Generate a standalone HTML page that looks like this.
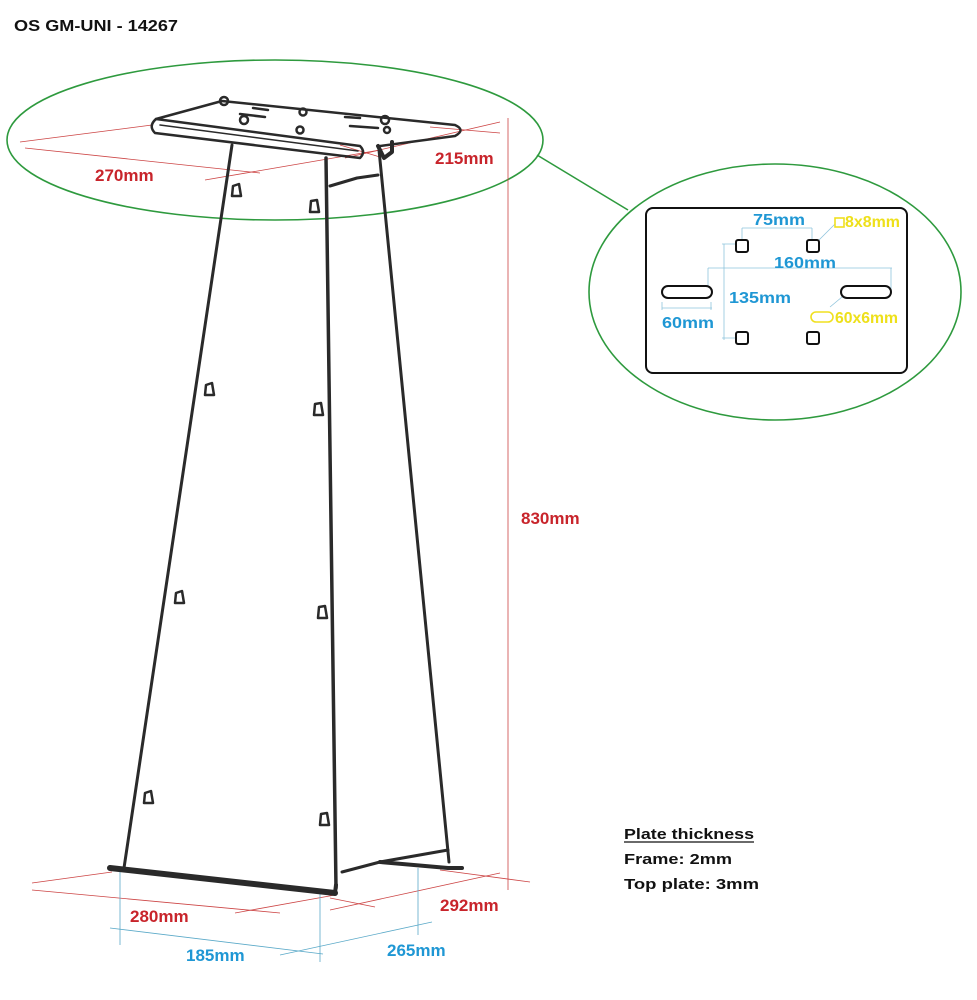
<!DOCTYPE html>
<html><head><meta charset="utf-8"><style>
html,body{margin:0;padding:0;background:#fff;}
svg{display:block;}
text{font-family:"Liberation Sans",sans-serif;font-weight:bold;}
</style></head><body>
<svg width="977" height="1000" viewBox="0 0 977 1000" xmlns="http://www.w3.org/2000/svg">
<rect width="977" height="1000" fill="#fff"/>
<text x="14" y="31" font-size="16" fill="#111" textLength="164" lengthAdjust="spacingAndGlyphs">OS GM-UNI - 14267</text>

<ellipse cx="275" cy="140" rx="268" ry="80" fill="none" stroke="#2e9a3e" stroke-width="1.6"/>
<line x1="537" y1="155" x2="628" y2="210" stroke="#2e9a3e" stroke-width="1.6"/>
<ellipse cx="775" cy="292" rx="186" ry="128" fill="none" stroke="#2e9a3e" stroke-width="1.6"/>

<g stroke="#c44" stroke-width="0.8" fill="none">
<line x1="20" y1="142" x2="152" y2="125"/>
<line x1="25" y1="148" x2="260" y2="173"/>
<line x1="205" y1="180" x2="380" y2="150"/>
<line x1="340" y1="145" x2="380" y2="157"/>
<line x1="345" y1="158" x2="500" y2="122"/>
<line x1="430" y1="127" x2="500" y2="133"/>
<line x1="508" y1="118" x2="508" y2="890"/>
<line x1="32" y1="883" x2="112" y2="872"/>
<line x1="32" y1="890" x2="280" y2="913"/>
<line x1="235" y1="913" x2="335" y2="895"/>
<line x1="330" y1="898" x2="375" y2="907"/>
<line x1="330" y1="910" x2="500" y2="873"/>
<line x1="440" y1="870" x2="530" y2="882"/>
</g>
<g stroke="#5aa9c8" stroke-width="0.8" fill="none">
<line x1="120" y1="872" x2="120" y2="945"/>
<line x1="110" y1="928" x2="323" y2="954"/>
<line x1="320" y1="893" x2="320" y2="962"/>
<line x1="280" y1="955" x2="432" y2="922"/>
<line x1="418" y1="868" x2="418" y2="935"/>
</g>

<g stroke="#2a2a2a" fill="none" stroke-linecap="round" stroke-linejoin="round">
<line x1="232" y1="145" x2="124" y2="868" stroke-width="3"/>
<line x1="326" y1="158" x2="336" y2="888" stroke-width="3.5"/>
<line x1="379" y1="150" x2="449" y2="862" stroke-width="3"/>
<path d="M330 186 L357 178 L378 175" stroke-width="3"/>
<path d="M110 868 L335 893" stroke-width="6"/>
<path d="M335 893 L336 885" stroke-width="4"/>
<path d="M342 872 L380 862 L448 850" stroke-width="3"/>
<path d="M380 862 L448 868 L462 868" stroke-width="4"/>
<path d="M156 119 L222 101 L455 125 Q466 130 455 136 L380 146" stroke-width="2.5"/>
<path d="M156 119 L360 146 Q366 152 360 158 L155 133 Q148 126 156 119 Z" stroke-width="2.5"/>
<path d="M160 125 L358 151" stroke-width="1.5"/>
<path d="M378 146 L384 158 L392 152 L392 142" stroke-width="4"/>
<g stroke-width="2.5">
<circle cx="224" cy="101" r="4"/><circle cx="244" cy="120" r="4"/><circle cx="300" cy="130" r="3.5"/><circle cx="303" cy="112" r="3.5"/><circle cx="385" cy="120" r="4"/><circle cx="387" cy="130" r="3"/>
<line x1="240" y1="114" x2="265" y2="117"/><line x1="253" y1="108" x2="268" y2="110"/>
<line x1="350" y1="126" x2="378" y2="128"/><line x1="345" y1="117" x2="360" y2="118"/>
</g>
<g stroke-width="2.5">
<path d="M232 196 l1 -10 l6 -2 l2 12 z"/>
<path d="M205 395 l1 -10 l6 -2 l2 12 z"/>
<path d="M175 603 l1 -10 l6 -2 l2 12 z"/>
<path d="M144 803 l1 -10 l6 -2 l2 12 z"/>
<path d="M310 212 l1 -11 l6 -1 l2 12 z"/>
<path d="M314 415 l1 -11 l6 -1 l2 12 z"/>
<path d="M318 618 l1 -11 l6 -1 l2 12 z"/>
<path d="M320 825 l1 -11 l6 -1 l2 12 z"/>
</g>
</g>

<g font-size="17" fill="#c8242b">
<text x="95" y="181">270mm</text>
<text x="435" y="164">215mm</text>
<text x="521" y="524">830mm</text>
<text x="130" y="922">280mm</text>
<text x="440" y="911">292mm</text>
</g>
<g font-size="17" fill="#1f97d4">
<text x="186" y="961">185mm</text>
<text x="387" y="956">265mm</text>
</g>

<rect x="646" y="208" width="261" height="165" rx="7" fill="#fff" stroke="#111" stroke-width="2"/>
<g stroke="#8ec4dc" stroke-width="0.8" fill="none">
<line x1="742" y1="228" x2="812" y2="228"/><line x1="742" y1="228" x2="742" y2="244"/><line x1="812" y1="228" x2="812" y2="244"/>
<line x1="724" y1="244" x2="724" y2="340"/><line x1="722" y1="244" x2="740" y2="244"/><line x1="722" y1="338" x2="740" y2="338"/>
<line x1="708" y1="268" x2="892" y2="268"/><line x1="708" y1="268" x2="708" y2="292"/><line x1="891" y1="268" x2="891" y2="292"/>
<line x1="662" y1="308" x2="712" y2="308"/><line x1="662" y1="302" x2="662" y2="310"/><line x1="711" y1="302" x2="711" y2="310"/>
<line x1="814" y1="245" x2="835" y2="224"/>
<line x1="830" y1="307" x2="848" y2="292"/>
</g>
<g stroke="#111" stroke-width="2" fill="#fff">
<rect x="736" y="240" width="12" height="12" rx="2"/><rect x="807" y="240" width="12" height="12" rx="2"/>
<rect x="736" y="332" width="12" height="12" rx="2"/><rect x="807" y="332" width="12" height="12" rx="2"/>
<rect x="662" y="286" width="50" height="12" rx="6"/><rect x="841" y="286" width="50" height="12" rx="6"/>
</g>
<g stroke="#f0e020" stroke-width="1.6" fill="none">
<rect x="835" y="218" width="9" height="9"/>
<rect x="811" y="312" width="22" height="10" rx="5"/>
</g>
<g font-size="16" fill="#1f97d4">
<text x="753" y="225" textLength="52" lengthAdjust="spacingAndGlyphs">75mm</text>
<text x="774" y="268" textLength="62" lengthAdjust="spacingAndGlyphs">160mm</text>
<text x="729" y="303" textLength="62" lengthAdjust="spacingAndGlyphs">135mm</text>
<text x="662" y="328" textLength="52" lengthAdjust="spacingAndGlyphs">60mm</text>
</g>
<g font-size="16" fill="#eee01a">
<text x="845" y="227" textLength="55" lengthAdjust="spacingAndGlyphs">8x8mm</text>
<text x="835" y="323" textLength="63" lengthAdjust="spacingAndGlyphs">60x6mm</text>
</g>

<g font-size="15" fill="#111">
<text x="624" y="839" textLength="130" lengthAdjust="spacingAndGlyphs">Plate thickness</text>
<line x1="624" y1="842" x2="754" y2="842" stroke="#111" stroke-width="1.3"/>
<text x="624" y="864" textLength="108" lengthAdjust="spacingAndGlyphs">Frame: 2mm</text>
<text x="624" y="889" textLength="135" lengthAdjust="spacingAndGlyphs">Top plate: 3mm</text>
</g>
</svg>
</body></html>
